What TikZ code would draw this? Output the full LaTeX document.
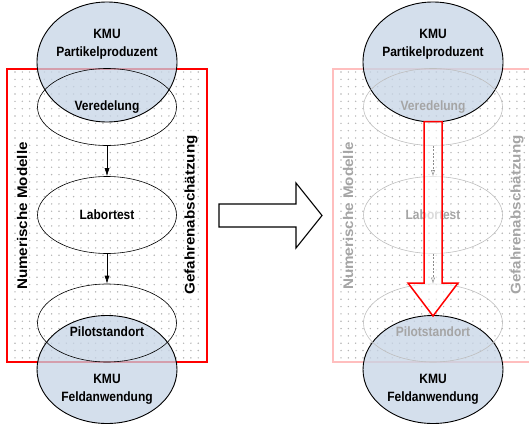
\documentclass[tikz,border=0pt]{standalone}
\usepackage{fontspec}
\setmainfont{Liberation Sans}
\usepackage{graphicx}
\usetikzlibrary{shapes.geometric,arrows.meta}
\definecolor{kmublue}{RGB}{198,212,230}
\definecolor{fadepink}{RGB}{255,190,190}
\definecolor{dotgray}{RGB}{180,180,180}
\definecolor{fadeline}{RGB}{190,190,190}
\definecolor{fadetext}{RGB}{165,165,165}
\newcommand{\lbltxt}[1]{\scalebox{0.89}[1]{#1}}
\begin{document}
\begin{tikzpicture}[x=1pt,y=-1pt,
  lbl/.style={font=\bfseries\fontsize{13.5}{18}\selectfont, align=center, inner sep=0pt},
  side/.style={font=\bfseries\fontsize{14}{15}\selectfont, inner sep=0pt, rotate=90},
  stage/.style={ellipse, draw=black, line width=0.6pt, minimum width=139pt, minimum height=77pt, inner sep=0pt},
  fstage/.style={stage, draw=fadeline},
  kmu/.style={ellipse, draw=black, line width=0.9pt, fill=kmublue, fill opacity=0.75, minimum width=140pt, inner sep=0pt},
  flow/.style={-{Latex[length=8pt,width=5pt]}, line width=0.6pt},
  fflow/.style={-{Latex[open,length=6pt,width=4pt]}, line width=0.5pt, dashed, dash pattern=on 2pt off 1.5pt, draw=black!45},
  blockarrow/.style={line width=1.1pt, line join=miter},
]
\useasboundingbox (0,0) rectangle (529,425);
\clip (0,0) rectangle (529,425);

% ---------------- left panel ----------------
\foreach \i in {0,...,25}
  \foreach \j in {0,...,39}
    \fill[dotgray] ({15+7.33*\i},{72+7.33*\j}) circle (0.8pt);
\draw[red, line width=1.3pt] (7,69) rectangle (207,362);

\node[kmu, minimum height=120pt] (kmuA) at (107,62) {};
\node[kmu, minimum height=108pt] (kmuB) at (107,369.5) {};

\node[stage] (ver) at (107,107) {};
\node[stage] (lab) at (107,215) {};
\node[stage, minimum height=78pt] (pil) at (107,323) {};

\node[lbl] (tA) at (107,44) {\lbltxt{KMU}\\\lbltxt{Partikelproduzent}};
\node[lbl] (tV) at (107,107) {\lbltxt{Veredelung}};
\node[lbl] (tL) at (107,215) {\lbltxt{Labortest}};
\node[lbl] (tP) at (107,332) {\lbltxt{Pilotstandort}};
\node[lbl] (tB) at (107,389) {\lbltxt{KMU}\\\lbltxt{Feldanwendung}};

\node[side] (nm) at (22,216) {\scalebox{1.085}[1]{Numerische Modelle}};
\node[side] (gf) at (191,215) {\scalebox{1.085}[1]{Gefahrenabschätzung}};

\draw[flow] (ver.south) -- (lab.north);
\draw[flow] (lab.south) -- (pil.north);

% ---------------- middle hollow arrow ----------------
\draw[blockarrow, fill=white] (219,204) -- (296,204) -- (296,183) -- (322,215.5)
  -- (296,248) -- (296,227) -- (219,227) -- cycle;

% ---------------- right panel ----------------
\foreach \i in {0,...,25}
  \foreach \j in {0,...,39}
    \fill[dotgray] ({341+7.33*\i},{72+7.33*\j}) circle (0.8pt);
\draw[fadepink, line width=1.3pt] (333,69) rectangle (533,362);

\node[kmu, minimum height=120pt] (kmuC) at (433,62) {};
\node[kmu, minimum height=108pt] (kmuD) at (433,369.5) {};

\node[fstage] (ver2) at (433,107) {};
\node[fstage] (lab2) at (433,215) {};
\node[fstage, minimum height=78pt] (pil2) at (433,323) {};

\node[lbl] (tC) at (433,44) {\lbltxt{KMU}\\\lbltxt{Partikelproduzent}};
\node[lbl, text=fadetext] (tV2) at (433,107) {\lbltxt{Veredelung}};
\node[lbl, text=fadetext] (tL2) at (433,215) {\lbltxt{Labortest}};
\node[lbl, text=fadetext] (tP2) at (433,332) {\lbltxt{Pilotstandort}};
\node[lbl] (tD) at (433,389) {\lbltxt{KMU}\\\lbltxt{Feldanwendung}};

\node[side, text=fadetext] (nm2) at (348,216) {\scalebox{1.085}[1]{Numerische Modelle}};
\node[side, text=fadetext] (gf2) at (517,215) {\scalebox{1.085}[1]{Gefahrenabschätzung}};

\draw[blockarrow, draw=red, line width=1.5pt, fill=white, fill opacity=0.6]
  (424,121.5) -- (442,121.5) -- (442,283) -- (458,283) -- (433,316)
  -- (408,283) -- (424,283) -- cycle;

\draw[fflow] (ver2.south) -- (lab2.north);
\draw[fflow] (lab2.south) -- (pil2.north);
\end{tikzpicture}
\end{document}
